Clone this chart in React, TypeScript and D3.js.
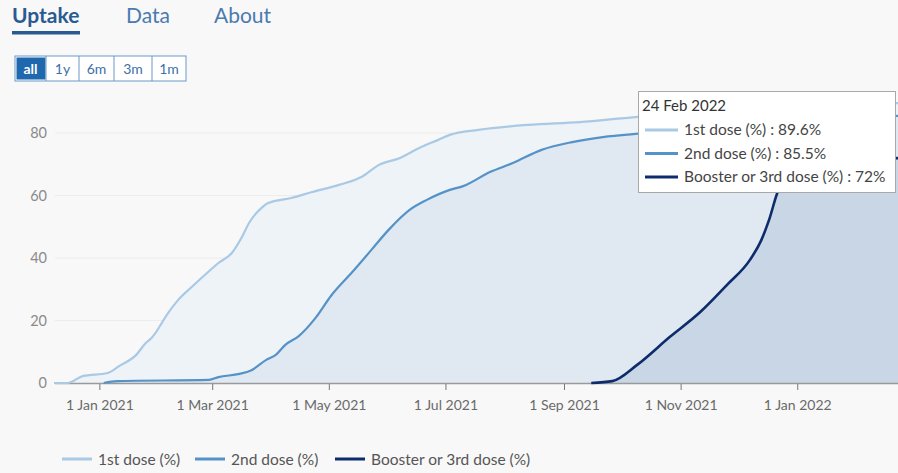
import * as d3 from "d3";

// uptake series (dates as ISO strings, values in %)
const firstDates = [
  "2020-12-08", "2020-12-15", "2020-12-23", "2021-01-05", "2021-01-11", "2021-01-20",
  "2021-01-25", "2021-01-28", "2021-02-06", "2021-02-11", "2021-02-18", "2021-02-26",
  "2021-03-04", "2021-03-11", "2021-03-16", "2021-03-20", "2021-03-27", "2021-03-30",
  "2021-04-11", "2021-04-22", "2021-05-06", "2021-05-18", "2021-05-27", "2021-06-07",
  "2021-06-17", "2021-06-27", "2021-07-03", "2021-07-18", "2021-08-13", "2021-09-09",
  "2021-10-08", "2021-11-15", "2021-12-20", "2022-01-20", "2022-02-24",
];
const firstValues = [
  0, 0, 2.2, 3.2, 5.4, 9,
  12.8, 14.4, 22.7, 26.6, 30.7, 35.2,
  38.4, 41.6, 46.4, 51.2, 56.3, 57.6,
  59.2, 61.1, 63.4, 66, 69.8, 72,
  75.2, 77.8, 79.4, 81, 82.6, 83.5,
  85.1, 86.6, 88.1, 89.1, 89.6,
];

const secondDates = [
  "2021-01-03", "2021-01-10", "2021-02-27", "2021-03-04", "2021-03-15", "2021-03-21",
  "2021-03-29", "2021-04-03", "2021-04-08", "2021-04-15", "2021-04-24", "2021-05-02",
  "2021-05-13", "2021-05-23", "2021-06-01", "2021-06-12", "2021-06-21", "2021-07-03",
  "2021-07-10", "2021-07-24", "2021-08-05", "2021-08-20", "2021-09-05", "2021-09-21",
  "2021-10-08", "2021-11-15", "2021-12-20", "2022-01-20", "2022-02-24",
];
const secondValues = [
  0, 0.6, 1, 1.9, 2.9, 4,
  7.4, 9, 12.2, 15, 21, 28,
  35.5, 42.6, 49, 55.4, 58.6, 61.8,
  63, 67.5, 70.4, 74.6, 77.1, 78.7,
  79.7, 81, 82.6, 84.4, 85.5,
];

const boosterDates = [
  "2021-09-15", "2021-09-26", "2021-10-09", "2021-10-26", "2021-11-11", "2021-11-25",
  "2021-12-07", "2021-12-13", "2021-12-17", "2021-12-22", "2021-12-31", "2022-01-15",
  "2022-02-24",
];
const boosterValues = [
  0, 0.6, 5.8, 14.7, 22.7, 31.4,
  39.4, 45.8, 52.2, 61.8, 67, 70.5,
  72,
];

const yTicks = [0, 20, 40, 60, 80];
const tabs = ["Uptake", "Data", "About"];
const ranges = ["all", "1y", "6m", "3m", "1m"];
const seriesNames = ["1st dose (%)", "2nd dose (%)", "Booster or 3rd dose (%)"];
const tooltipDate = "24 Feb 2022";
const tooltipValues = ["89.6%", "85.5%", "72%"];

const W = 898;
const H = 473;
const FONT = "Lato, 'Open Sans', sans-serif";
const lineColors = ["#a9c9e5", "#5592c8", "#0c2c6c"];
const areaColors = ["#eef3f8", "#e0e8f1", "#c9d6e5"];

type Pt = { d: Date; v: number };
const parse = d3.timeParse("%Y-%m-%d");
const toPts = (ds: string[], vs: number[]): Pt[] => ds.map((s, i) => ({ d: parse(s)!, v: vs[i] }));

export default function App() {
  const series = [
    toPts(firstDates, firstValues),
    toPts(secondDates, secondValues),
    toPts(boosterDates, boosterValues),
  ];

  const x = d3.scaleTime()
    .domain([parse("2020-12-08")!, parse("2022-02-24")!])
    .range([54, 901]);
  const y = d3.scaleLinear().domain([0, 92]).range([383, 95.5]);

  const area = d3.area<Pt>().x((p) => x(p.d)).y0(y(0)).y1((p) => y(p.v)).curve(d3.curveMonotoneX);
  const line = d3.line<Pt>().x((p) => x(p.d)).y((p) => y(p.v)).curve(d3.curveMonotoneX);
  const xTicks = x.ticks(d3.timeMonth.every(2)!);
  const fmt = d3.timeFormat("%-d %b %Y");

  const tabX = [12, 126, 214];
  const btnX = [15, 46, 79, 114, 152, 186];
  const legendX = [62, 195, 335];

  return (
    <div style={{ position: "fixed", left: 0, top: 0 }}>
      <svg width={W} height={H} style={{ display: "block", fontFamily: FONT }}>
        <rect width={W} height={H} fill="#f8f8f8" />

        {/* tabs */}
        {tabs.map((t, i) => (
          <text key={t} x={tabX[i]} y={23} fontSize={21}
            fontWeight={i === 0 ? 700 : 400} fill={i === 0 ? "#2a5a92" : "#4b7ab0"}>{t}</text>
        ))}
        <rect x={12} y={31} width={68} height={3.5} fill="#2a5a92" />

        {/* range buttons */}
        <rect x={btnX[0]} y={56} width={btnX[5] - btnX[0]} height={25} fill="#fff" stroke="#6a98c9" />
        {ranges.map((r, i) => (
          <g key={r}>
            {i === 0 && <rect x={btnX[0] + 1.5} y={57.5} width={btnX[1] - btnX[0] - 2} height={22} fill="#1f68ad" />}
            {i > 0 && <line x1={btnX[i]} x2={btnX[i]} y1={56} y2={81} stroke="#6a98c9" />}
            <text x={(btnX[i] + btnX[i + 1]) / 2} y={73.5} textAnchor="middle" fontSize={14}
              fontWeight={i === 0 ? 700 : 400} fill={i === 0 ? "#fff" : "#3c6fa7"}>{r}</text>
          </g>
        ))}

        {/* grid + y labels */}
        {yTicks.map((t) => (
          <g key={t}>
            {t > 0 && <line x1={55} x2={W} y1={y(t)} y2={y(t)} stroke="#ececec" />}
            <text x={47} y={y(t) + 5} textAnchor="end" fontSize={14.5} fill="#8a8a8a">{t}</text>
          </g>
        ))}

        {/* areas */}
        {series.map((s, i) => (
          <path key={"a" + i} d={area(s)!} fill={areaColors[i]} />
        ))}

        {/* x axis */}
        <line x1={55} x2={W} y1={383.5} y2={383.5} stroke="#9a9a9a" strokeWidth={1.5} />
        {xTicks.map((t) => (
          <g key={t.getTime()}>
            <line x1={x(t)} x2={x(t)} y1={384} y2={390} stroke="#777" />
            <text x={x(t)} y={410} textAnchor="middle" fontSize={14} fill="#6a6a6a">{fmt(t)}</text>
          </g>
        ))}

        {/* lines */}
        {series.map((s, i) => (
          <path key={"l" + i} d={line(s)!} fill="none" stroke={lineColors[i]}
            strokeWidth={i === 2 ? 2.6 : 2.2} strokeLinejoin="round" />
        ))}

        {/* tooltip */}
        <g>
          <rect x={638.5} y={91.5} width={257} height={101} fill="#fff" stroke="#a8a8a8" />
          <text x={642} y={111} fontSize={15} fill="#333">{tooltipDate}</text>
          {seriesNames.map((n, i) => (
            <g key={n}>
              <line x1={645} x2={678} y1={130 + i * 23.5} y2={130 + i * 23.5}
                stroke={lineColors[i]} strokeWidth={3} />
              <text x={684} y={135 + i * 23.5} fontSize={15.5} fill="#444">{`${n} : ${tooltipValues[i]}`}</text>
            </g>
          ))}
        </g>

        {/* legend */}
        {seriesNames.map((n, i) => (
          <g key={"lg" + i}>
            <line x1={legendX[i]} x2={legendX[i] + 30} y1={459} y2={459} stroke={lineColors[i]} strokeWidth={3} />
            <text x={legendX[i] + 36} y={465} fontSize={15.5} fill="#555">{n}</text>
          </g>
        ))}
      </svg>
    </div>
  );
}
